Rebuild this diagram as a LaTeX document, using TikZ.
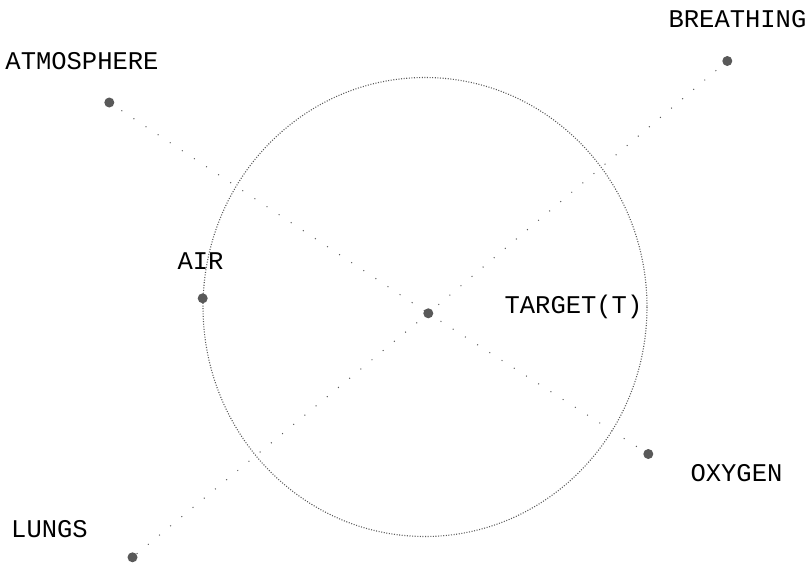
\documentclass[tikz,border=0pt]{standalone}
\usepackage{fontspec}
\setmonofont{Liberation Mono}
\begin{document}
\begin{tikzpicture}[x=1pt,y=-1pt,
  pt/.style={circle,fill=black!65,draw=none,minimum size=10pt,inner sep=0pt},
  lbl/.style={anchor=base,inner sep=0pt,font=\ttfamily\fontsize{25.5}{25.5}\selectfont,text=black},
  link/.style={draw=black!65,line width=1pt,dash pattern=on 1pt off 13.5pt},
  ring/.style={draw=black!65,line width=1.1pt,dash pattern=on 1pt off 1.6pt}]
\useasboundingbox (0,0) rectangle (809,565);
\draw[ring] (425,307) ellipse [x radius=222, y radius=229.5];
\node[pt] (target) at (428.3,313.3) {};
\node[pt] (atm) at (109.3,102.5) {};
\node[pt] (brt) at (727.3,61) {};
\node[pt] (air) at (202.7,298.3) {};
\node[pt] (oxy) at (648.3,454) {};
\node[pt] (lng) at (132.5,557.3) {};
\draw[link] (atm.center) -- (target.center);
\draw[link] (target.center) -- (oxy.center);
\draw[link] (brt.center) -- (target.center);
\draw[link] (target.center) -- (lng.center);
\node[lbl] (tatm) at (82,69) {ATMOSPHERE};
\node[lbl] (tbrt) at (737.5,27) {BREATHING};
\node[lbl] (tair) at (200.5,269) {AIR};
\node[lbl] (ttgt) at (573.5,313) {TARGET(T)};
\node[lbl] (toxy) at (736.5,481) {OXYGEN};
\node[lbl] (tlng) at (49.5,537) {LUNGS};
\end{tikzpicture}
\end{document}
